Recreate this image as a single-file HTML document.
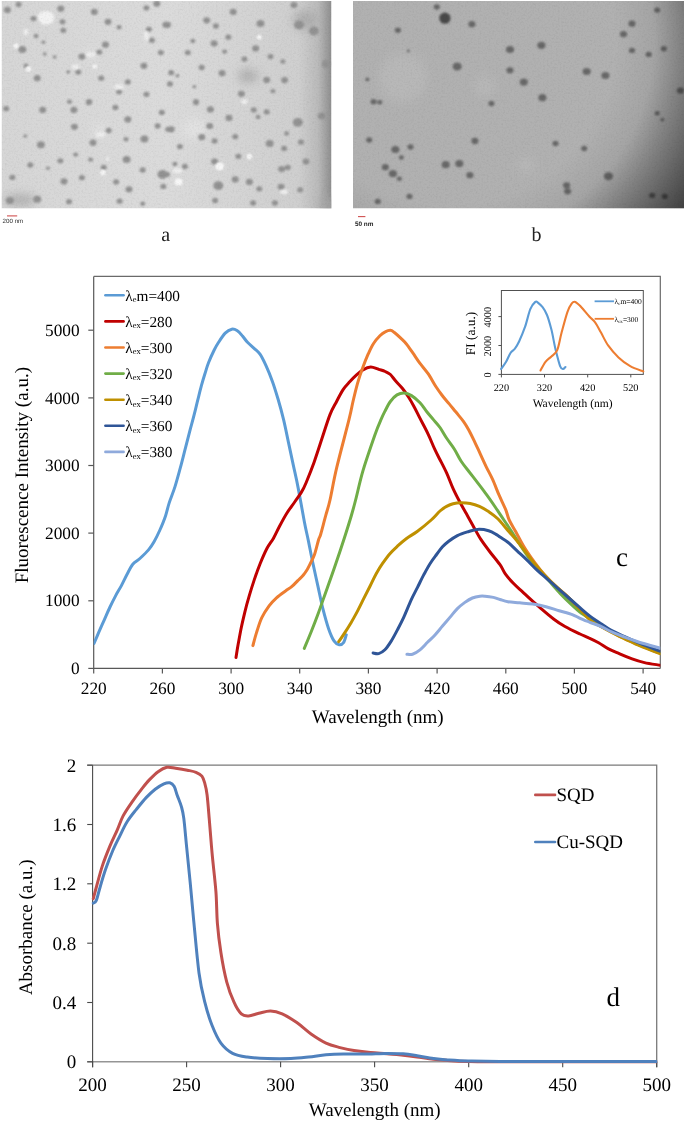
<!DOCTYPE html>
<html><head><meta charset="utf-8"><style>
html,body{margin:0;padding:0;background:#fff;}
svg{display:block;will-change:transform;}
text{font-family:"Liberation Serif",serif;fill:#000;text-rendering:geometricPrecision;}
.t17{font-size:17.3px;}
.t20{font-size:20px;}
.t27{font-size:27px;}
.t15{font-size:15.3px;}
.sub{font-size:8.5px;}
.sub7{font-size:5px;}
.t7{font-size:7.5px;}
.t10{font-size:10.3px;}
.t11{font-size:11.5px;}
.t13{font-size:13.4px;}
.t19{font-size:19px;}
.lab{font-size:20px;fill:#222;}
.t22{font-size:24px;}
.sb{font-family:"Liberation Sans",sans-serif;font-size:6.2px;fill:#2a2a2a;}
.sbb{font-family:"Liberation Sans",sans-serif;font-size:6.4px;fill:#1a1a1a;font-weight:bold;}
</style></head><body>
<svg width="685" height="1122" viewBox="0 0 685 1122">
<defs>
<filter id="bl" x="-50%" y="-50%" width="200%" height="200%"><feGaussianBlur stdDeviation="0.95"/></filter>
<filter id="bl2" x="-50%" y="-50%" width="200%" height="200%"><feGaussianBlur stdDeviation="2.5"/></filter>
<filter id="bl4" x="-50%" y="-50%" width="200%" height="200%"><feGaussianBlur stdDeviation="5"/></filter>
<filter id="noise" x="0" y="0" width="100%" height="100%">
<feTurbulence type="fractalNoise" baseFrequency="0.55" numOctaves="2" seed="3" result="n"/>
<feColorMatrix in="n" type="matrix" values="0 0 0 0 0  0 0 0 0 0  0 0 0 0 0  0.33 0.33 0.33 0 -0.45" result="a"/>
<feComposite in="a" in2="SourceGraphic" operator="in"/>
</filter>
<linearGradient id="ga" x1="0" y1="0" x2="1" y2="0">
<stop offset="0" stop-color="#d6d6d6"/><stop offset="0.5" stop-color="#dbdbdb"/><stop offset="0.9" stop-color="#cfcfcf"/><stop offset="0.96" stop-color="#bababa"/><stop offset="1" stop-color="#8e8e8e"/></linearGradient>
<radialGradient id="gb" gradientUnits="userSpaceOnUse" cx="450" cy="40" r="300">
<stop offset="0" stop-color="#000" stop-opacity="0"/><stop offset="0.55" stop-color="#000" stop-opacity="0"/><stop offset="0.68" stop-color="#000" stop-opacity="0.07"/><stop offset="0.78" stop-color="#000" stop-opacity="0.28"/><stop offset="0.93" stop-color="#000" stop-opacity="0.58"/><stop offset="1" stop-color="#000" stop-opacity="0.7"/></radialGradient>
<radialGradient id="gav" gradientUnits="userSpaceOnUse" cx="150" cy="80" r="200">
<stop offset="0" stop-color="#000" stop-opacity="0"/><stop offset="0.8" stop-color="#000" stop-opacity="0"/><stop offset="0.9" stop-color="#000" stop-opacity="0.06"/><stop offset="1" stop-color="#000" stop-opacity="0.25"/></radialGradient>
<clipPath id="ca"><rect x="1.5" y="1" width="330" height="207.5"/></clipPath>
<clipPath id="cb"><rect x="353" y="1" width="331" height="207.5"/></clipPath>
</defs>
<g clip-path="url(#ca)"><rect x="1.5" y="1" width="330" height="207.5" fill="url(#ga)"/>
<g filter="url(#bl4)" fill="#e2e2e2"><ellipse cx="194.8" cy="128.5" rx="12" ry="10"/><ellipse cx="100" cy="130" rx="8" ry="5"/><ellipse cx="90" cy="55" rx="7" ry="4"/></g>
<g filter="url(#bl4)" fill="#a8a8a8" opacity="0.8"><ellipse cx="248" cy="76" rx="10" ry="7"/><ellipse cx="20" cy="200" rx="16" ry="6"/><ellipse cx="305" cy="20" rx="12" ry="10"/><ellipse cx="328" cy="205" rx="8" ry="8"/></g>
<g filter="url(#bl)" fill="#f2f2f2"><path d="M38 14 Q44 9 51 12 Q56 16 53 22 Q48 26 42 24 Q37 20 38 14Z"/></g>
<g filter="url(#bl)" fill="#929292">
<ellipse cx="7.4" cy="9.9" rx="3.50" ry="3.08"/>
<ellipse cx="18.6" cy="4.5" rx="3.00" ry="2.64"/>
<ellipse cx="33.5" cy="18.6" rx="3.00" ry="2.64"/>
<ellipse cx="60.8" cy="8.7" rx="3.50" ry="3.08"/>
<ellipse cx="62.5" cy="21.8" rx="3.00" ry="2.64"/>
<ellipse cx="63.3" cy="30.3" rx="3.00" ry="2.64"/>
<ellipse cx="36" cy="36" rx="2.50" ry="2.20"/>
<ellipse cx="43.4" cy="42.2" rx="2.00" ry="1.76"/>
<ellipse cx="22.3" cy="49.6" rx="4.00" ry="3.52"/>
<ellipse cx="44.7" cy="54.1" rx="2.00" ry="1.76"/>
<ellipse cx="54.6" cy="57.1" rx="2.00" ry="1.76"/>
<ellipse cx="26" cy="65.8" rx="2.50" ry="2.20"/>
<ellipse cx="37.2" cy="78.2" rx="3.50" ry="3.08"/>
<ellipse cx="81.9" cy="56.6" rx="3.50" ry="3.08"/>
<ellipse cx="99.3" cy="52.1" rx="3.00" ry="2.64"/>
<ellipse cx="105.5" cy="44.7" rx="3.50" ry="3.08"/>
<ellipse cx="94.3" cy="11.9" rx="3.50" ry="3.08"/>
<ellipse cx="108" cy="21.8" rx="3.50" ry="3.08"/>
<ellipse cx="119.1" cy="27.3" rx="2.50" ry="2.20"/>
<ellipse cx="148.9" cy="29.3" rx="3.00" ry="2.64"/>
<ellipse cx="151.9" cy="40.2" rx="3.00" ry="2.64"/>
<ellipse cx="146.4" cy="7.9" rx="3.00" ry="2.64"/>
<ellipse cx="156.8" cy="3.7" rx="3.50" ry="3.08"/>
<ellipse cx="165.8" cy="24.8" rx="3.50" ry="3.08"/>
<ellipse cx="160.8" cy="52.6" rx="3.00" ry="2.64"/>
<ellipse cx="143.9" cy="65.8" rx="3.50" ry="3.08"/>
<ellipse cx="127.8" cy="81.9" rx="3.00" ry="2.64"/>
<ellipse cx="101.2" cy="78.2" rx="3.00" ry="2.64"/>
<ellipse cx="78.2" cy="72" rx="3.00" ry="2.64"/>
<ellipse cx="68.2" cy="72" rx="2.00" ry="1.76"/>
<ellipse cx="119.1" cy="91.8" rx="3.00" ry="2.64"/>
<ellipse cx="146.4" cy="94.3" rx="3.00" ry="2.64"/>
<ellipse cx="69.5" cy="101.7" rx="2.50" ry="2.20"/>
<ellipse cx="89.3" cy="101.7" rx="3.00" ry="2.64"/>
<ellipse cx="233.2" cy="11.9" rx="3.50" ry="3.08"/>
<ellipse cx="206.7" cy="20.3" rx="3.50" ry="3.08"/>
<ellipse cx="215.9" cy="26" rx="3.00" ry="2.64"/>
<ellipse cx="167.5" cy="24.8" rx="3.50" ry="3.08"/>
<ellipse cx="260.5" cy="23.6" rx="4.00" ry="3.52"/>
<ellipse cx="228.3" cy="37.2" rx="3.00" ry="2.64"/>
<ellipse cx="214.1" cy="43.4" rx="3.50" ry="3.08"/>
<ellipse cx="192.8" cy="40.9" rx="2.50" ry="2.20"/>
<ellipse cx="187.8" cy="52.6" rx="3.00" ry="2.64"/>
<ellipse cx="224.6" cy="51.6" rx="2.50" ry="2.20"/>
<ellipse cx="255.6" cy="48.4" rx="3.50" ry="3.08"/>
<ellipse cx="270.5" cy="56.6" rx="3.00" ry="2.64"/>
<ellipse cx="244.4" cy="59.1" rx="3.00" ry="2.64"/>
<ellipse cx="282.9" cy="61.5" rx="2.50" ry="2.20"/>
<ellipse cx="201.7" cy="67.5" rx="3.00" ry="2.64"/>
<ellipse cx="222.1" cy="73.2" rx="3.50" ry="3.08"/>
<ellipse cx="171.2" cy="72.7" rx="3.00" ry="2.64"/>
<ellipse cx="177.4" cy="75.7" rx="2.00" ry="1.76"/>
<ellipse cx="170" cy="83.9" rx="3.00" ry="2.64"/>
<ellipse cx="266.7" cy="79.9" rx="3.50" ry="3.08"/>
<ellipse cx="284.6" cy="80.1" rx="3.50" ry="3.08"/>
<ellipse cx="241.4" cy="93.8" rx="3.50" ry="3.08"/>
<ellipse cx="272.9" cy="91.1" rx="2.50" ry="2.20"/>
<ellipse cx="194.3" cy="86.8" rx="2.00" ry="1.76"/>
<ellipse cx="196" cy="101.7" rx="3.00" ry="2.64"/>
<ellipse cx="294" cy="5" rx="3.50" ry="3.08"/>
<ellipse cx="299" cy="24.8" rx="5.00" ry="4.40"/>
<ellipse cx="313.9" cy="31" rx="5.00" ry="4.40"/>
<ellipse cx="326.3" cy="64" rx="4.50" ry="3.96"/>
<ellipse cx="6.2" cy="108.7" rx="3.00" ry="2.64"/>
<ellipse cx="42.7" cy="109.9" rx="3.50" ry="3.08"/>
<ellipse cx="73.9" cy="109.9" rx="3.50" ry="3.08"/>
<ellipse cx="88.8" cy="102.5" rx="3.00" ry="2.64"/>
<ellipse cx="115.4" cy="107.4" rx="3.00" ry="2.64"/>
<ellipse cx="127.8" cy="119.4" rx="3.50" ry="3.08"/>
<ellipse cx="161.8" cy="112.4" rx="3.00" ry="2.64"/>
<ellipse cx="74.4" cy="126.8" rx="3.50" ry="3.08"/>
<ellipse cx="108.7" cy="130.5" rx="3.00" ry="2.64"/>
<ellipse cx="93" cy="142.7" rx="3.50" ry="3.08"/>
<ellipse cx="40.9" cy="144.7" rx="4.00" ry="3.52"/>
<ellipse cx="25.3" cy="136" rx="2.00" ry="1.76"/>
<ellipse cx="126" cy="139.2" rx="2.50" ry="2.20"/>
<ellipse cx="144.4" cy="139" rx="4.00" ry="3.52"/>
<ellipse cx="157.6" cy="126" rx="3.00" ry="2.64"/>
<ellipse cx="168.2" cy="129.3" rx="3.00" ry="2.64"/>
<ellipse cx="75.7" cy="154.6" rx="2.50" ry="2.20"/>
<ellipse cx="60.3" cy="160.8" rx="3.00" ry="2.64"/>
<ellipse cx="90.6" cy="159.6" rx="2.50" ry="2.20"/>
<ellipse cx="126.6" cy="159.6" rx="4.00" ry="3.52"/>
<ellipse cx="30.3" cy="165" rx="3.00" ry="2.64"/>
<ellipse cx="47.9" cy="168.2" rx="2.00" ry="1.76"/>
<ellipse cx="103.7" cy="167.5" rx="3.00" ry="2.64"/>
<ellipse cx="142.7" cy="170" rx="3.00" ry="2.64"/>
<ellipse cx="162.5" cy="174.4" rx="5.00" ry="4.40"/>
<ellipse cx="12.4" cy="177.4" rx="3.00" ry="2.64"/>
<ellipse cx="81.9" cy="177.7" rx="3.00" ry="2.64"/>
<ellipse cx="64" cy="181.4" rx="3.50" ry="3.08"/>
<ellipse cx="116.1" cy="181.9" rx="3.00" ry="2.64"/>
<ellipse cx="129" cy="189.3" rx="3.50" ry="3.08"/>
<ellipse cx="163.3" cy="186.4" rx="3.00" ry="2.64"/>
<ellipse cx="9.9" cy="200.5" rx="4.00" ry="3.52"/>
<ellipse cx="37.2" cy="199.3" rx="4.00" ry="3.52"/>
<ellipse cx="69" cy="201.7" rx="3.00" ry="2.64"/>
<ellipse cx="119.6" cy="201.2" rx="3.00" ry="2.64"/>
<ellipse cx="142.7" cy="203.7" rx="2.50" ry="2.20"/>
<ellipse cx="196" cy="102.5" rx="3.00" ry="2.64"/>
<ellipse cx="210.4" cy="109.4" rx="3.50" ry="3.08"/>
<ellipse cx="229" cy="117.9" rx="3.50" ry="3.08"/>
<ellipse cx="253.8" cy="109.9" rx="3.00" ry="2.64"/>
<ellipse cx="266.7" cy="111.9" rx="3.00" ry="2.64"/>
<ellipse cx="258" cy="116.9" rx="2.50" ry="2.20"/>
<ellipse cx="297.8" cy="122.3" rx="5.00" ry="4.40"/>
<ellipse cx="321.8" cy="116.1" rx="4.00" ry="3.52"/>
<ellipse cx="171.2" cy="129.3" rx="3.50" ry="3.08"/>
<ellipse cx="209.7" cy="126" rx="3.50" ry="3.08"/>
<ellipse cx="201.7" cy="137.2" rx="3.50" ry="3.08"/>
<ellipse cx="235.2" cy="136.7" rx="3.00" ry="2.64"/>
<ellipse cx="214.6" cy="141" rx="3.00" ry="2.64"/>
<ellipse cx="179.9" cy="146.6" rx="3.00" ry="2.64"/>
<ellipse cx="269.7" cy="143.4" rx="4.00" ry="3.52"/>
<ellipse cx="284.1" cy="148.4" rx="3.00" ry="2.64"/>
<ellipse cx="286.6" cy="133.5" rx="2.50" ry="2.20"/>
<ellipse cx="301" cy="142.2" rx="3.00" ry="2.64"/>
<ellipse cx="238.4" cy="156.3" rx="3.00" ry="2.64"/>
<ellipse cx="214.6" cy="161.5" rx="3.50" ry="3.08"/>
<ellipse cx="306" cy="161.5" rx="3.50" ry="3.08"/>
<ellipse cx="281.6" cy="169" rx="3.50" ry="3.08"/>
<ellipse cx="287.8" cy="167.5" rx="3.00" ry="2.64"/>
<ellipse cx="184.9" cy="166.5" rx="3.00" ry="2.64"/>
<ellipse cx="174.9" cy="164" rx="2.50" ry="2.20"/>
<ellipse cx="235.2" cy="179.4" rx="3.50" ry="3.08"/>
<ellipse cx="249.4" cy="181.9" rx="3.50" ry="3.08"/>
<ellipse cx="218.3" cy="185.6" rx="5.00" ry="4.40"/>
<ellipse cx="259.3" cy="188.8" rx="3.00" ry="2.64"/>
<ellipse cx="281.1" cy="186.8" rx="3.50" ry="3.08"/>
<ellipse cx="300.2" cy="189.8" rx="3.00" ry="2.64"/>
<ellipse cx="215.1" cy="200.5" rx="3.00" ry="2.64"/>
<ellipse cx="253.1" cy="203" rx="3.00" ry="2.64"/>
<ellipse cx="274.9" cy="203" rx="3.00" ry="2.64"/>
<ellipse cx="167" cy="174.4" rx="3.00" ry="2.64"/>
</g><g filter="url(#bl)" fill="#eeeeee">
<ellipse cx="90.6" cy="54.6" rx="4.80" ry="2.40"/>
<ellipse cx="75.7" cy="67" rx="4.00" ry="2.40"/>
<ellipse cx="146.4" cy="36" rx="2.40" ry="4.80"/>
<ellipse cx="119" cy="86.9" rx="4.80" ry="2.40"/>
<ellipse cx="28.5" cy="69" rx="2.40" ry="2.40"/>
<ellipse cx="16" cy="46" rx="2.40" ry="2.40"/>
<ellipse cx="26" cy="32" rx="2.40" ry="3.20"/>
<ellipse cx="94.8" cy="66.5" rx="2.00" ry="2.00"/>
<ellipse cx="100.5" cy="134.7" rx="4.80" ry="2.40"/>
<ellipse cx="103" cy="172.5" rx="2.40" ry="2.40"/>
<ellipse cx="178.6" cy="181.9" rx="3.20" ry="3.20"/>
<ellipse cx="219.6" cy="166.5" rx="3.20" ry="3.20"/>
<ellipse cx="249.4" cy="156.6" rx="2.40" ry="2.40"/>
<ellipse cx="284.1" cy="191.8" rx="4.00" ry="2.40"/>
<ellipse cx="244.4" cy="101.7" rx="3.20" ry="2.40"/>
<ellipse cx="259.3" cy="37.2" rx="2.00" ry="2.00"/>
<ellipse cx="177.4" cy="170.7" rx="4.80" ry="2.40"/>
</g><g filter="url(#bl)" fill="#f8f8f8">
<ellipse cx="178.6" cy="181.9" rx="3.6" ry="3.2"/>
<ellipse cx="219.6" cy="166.5" rx="4" ry="3.4"/>
<ellipse cx="249.4" cy="156.6" rx="2.4" ry="2.4"/>
<ellipse cx="103" cy="172.5" rx="2.4" ry="2.2"/>
<ellipse cx="107.5" cy="159" rx="1.4" ry="1.4"/>
<ellipse cx="94.8" cy="66.5" rx="1.8" ry="1.8"/>
<ellipse cx="259.3" cy="37.2" rx="2" ry="2"/>
<ellipse cx="28.5" cy="69" rx="2.2" ry="2.2"/>
<ellipse cx="16" cy="46" rx="2" ry="2"/>
</g>
<rect x="1.5" y="1" width="330" height="207.5" fill="#000" filter="url(#noise)" opacity="0.18"/>
</g>
<g clip-path="url(#cb)"><rect x="353" y="1" width="331" height="207.5" fill="#b1b1b1"/>
<rect x="353" y="150" width="331" height="60" fill="#000" opacity="0.0"/>
<g filter="url(#bl4)" fill="#b8b8b8">
<circle cx="402.9" cy="78" r="24"/>
<circle cx="485" cy="86.6" r="10"/>
<circle cx="526.3" cy="165.2" r="8"/>
</g><g filter="url(#bl)" fill="#686868">
<ellipse cx="436.8" cy="6.9" rx="3.06" ry="2.70"/>
<ellipse cx="471.9" cy="24.2" rx="3.57" ry="3.15"/>
<ellipse cx="397.9" cy="30.2" rx="3.06" ry="2.70"/>
<ellipse cx="408.3" cy="50.9" rx="1.53" ry="1.35"/>
<ellipse cx="457.2" cy="66.5" rx="4.59" ry="4.05"/>
<ellipse cx="510" cy="49.5" rx="4.08" ry="3.60"/>
<ellipse cx="510" cy="70.3" rx="3.57" ry="3.15"/>
<ellipse cx="367.4" cy="79.4" rx="2.04" ry="1.80"/>
<ellipse cx="373.6" cy="101.7" rx="3.06" ry="2.70"/>
<ellipse cx="379.8" cy="102.2" rx="2.55" ry="2.25"/>
<ellipse cx="491.4" cy="103.5" rx="3.06" ry="2.70"/>
<ellipse cx="632" cy="23.7" rx="3.57" ry="3.15"/>
<ellipse cx="623.5" cy="34.2" rx="3.57" ry="3.15"/>
<ellipse cx="657.2" cy="10.1" rx="3.06" ry="2.70"/>
<ellipse cx="541.4" cy="45.3" rx="4.08" ry="3.60"/>
<ellipse cx="632" cy="50.4" rx="3.06" ry="2.70"/>
<ellipse cx="648.7" cy="54.4" rx="3.06" ry="2.70"/>
<ellipse cx="663.8" cy="48.8" rx="3.06" ry="2.70"/>
<ellipse cx="523.8" cy="82.1" rx="4.08" ry="3.60"/>
<ellipse cx="586.7" cy="71.5" rx="4.08" ry="3.60"/>
<ellipse cx="605.4" cy="75.5" rx="4.08" ry="3.60"/>
<ellipse cx="542.4" cy="97.7" rx="4.08" ry="3.60"/>
<ellipse cx="680.4" cy="90.6" rx="3.57" ry="3.15"/>
<ellipse cx="369.2" cy="140" rx="3.06" ry="2.70"/>
<ellipse cx="474.9" cy="141" rx="3.57" ry="3.15"/>
<ellipse cx="395.4" cy="149.5" rx="4.08" ry="3.60"/>
<ellipse cx="410.5" cy="147" rx="3.06" ry="2.70"/>
<ellipse cx="401.4" cy="157.6" rx="2.55" ry="2.25"/>
<ellipse cx="445.7" cy="164.7" rx="4.08" ry="3.60"/>
<ellipse cx="459.3" cy="163.6" rx="4.08" ry="3.60"/>
<ellipse cx="385.3" cy="167.2" rx="3.57" ry="3.15"/>
<ellipse cx="392.9" cy="173.7" rx="4.08" ry="3.60"/>
<ellipse cx="399.4" cy="178.8" rx="2.55" ry="2.25"/>
<ellipse cx="469.9" cy="175.2" rx="3.57" ry="3.15"/>
<ellipse cx="555.5" cy="143.5" rx="3.06" ry="2.70"/>
<ellipse cx="584.2" cy="148.5" rx="3.06" ry="2.70"/>
<ellipse cx="608.4" cy="176.2" rx="4.59" ry="4.05"/>
<ellipse cx="566.6" cy="185.3" rx="3.57" ry="3.15"/>
<ellipse cx="567.6" cy="191.3" rx="3.57" ry="3.15"/>
<ellipse cx="409.5" cy="196.4" rx="3.06" ry="2.70"/>
<ellipse cx="377.8" cy="201.4" rx="3.06" ry="2.70"/>
<ellipse cx="657.2" cy="113.3" rx="2.55" ry="2.25"/>
<ellipse cx="662.3" cy="119.8" rx="2.04" ry="1.80"/>
<ellipse cx="652.2" cy="195.4" rx="3.06" ry="2.70"/>
<ellipse cx="664.8" cy="196.4" rx="3.06" ry="2.70"/>
</g>
<circle cx="444.9" cy="18.2" r="5.6" fill="#4a4a4a" filter="url(#bl)"/>
<rect x="353" y="1" width="331" height="207.5" fill="url(#gb)"/>
<rect x="353" y="1" width="331" height="207.5" fill="#000" filter="url(#noise)" opacity="0.18"/>
</g>
<line x1="7" y1="215.9" x2="17.2" y2="215.9" stroke="#d05050" stroke-width="1.1"/>
<text x="2.6" y="222.6" class="sb">200 nm</text>
<line x1="358" y1="216.6" x2="365.4" y2="216.6" stroke="#d05050" stroke-width="1.1"/>
<text x="354.9" y="225.6" class="sbb">50 nm</text>
<text x="165.6" y="241" text-anchor="middle" class="lab">a</text>
<text x="536.6" y="241.2" text-anchor="middle" class="lab">b</text>
<path d="M93.7 276.4 H660.3 V668.4" fill="none" stroke="#6a6a6a" stroke-width="1.2"/>
<path d="M93.7 276.4 V668.4 H660.3" fill="none" stroke="#585858" stroke-width="1.2"/>
<line x1="88.3" y1="668.4" x2="93.7" y2="668.4" stroke="#585858" stroke-width="1.2"/>
<text x="79.6" y="674.0" text-anchor="end" class="t17">0</text>
<line x1="88.3" y1="600.8" x2="93.7" y2="600.8" stroke="#585858" stroke-width="1.2"/>
<text x="79.6" y="606.4" text-anchor="end" class="t17">1000</text>
<line x1="88.3" y1="533.1" x2="93.7" y2="533.1" stroke="#585858" stroke-width="1.2"/>
<text x="79.6" y="538.7" text-anchor="end" class="t17">2000</text>
<line x1="88.3" y1="465.5" x2="93.7" y2="465.5" stroke="#585858" stroke-width="1.2"/>
<text x="79.6" y="471.1" text-anchor="end" class="t17">3000</text>
<line x1="88.3" y1="397.9" x2="93.7" y2="397.9" stroke="#585858" stroke-width="1.2"/>
<text x="79.6" y="403.5" text-anchor="end" class="t17">4000</text>
<line x1="88.3" y1="330.2" x2="93.7" y2="330.2" stroke="#585858" stroke-width="1.2"/>
<text x="79.6" y="335.9" text-anchor="end" class="t17">5000</text>
<line x1="93.7" y1="668.4" x2="93.7" y2="673.4" stroke="#585858" stroke-width="1.2"/>
<text x="93.7" y="694.3" text-anchor="middle" class="t17">220</text>
<line x1="162.4" y1="668.4" x2="162.4" y2="673.4" stroke="#585858" stroke-width="1.2"/>
<text x="162.4" y="694.3" text-anchor="middle" class="t17">260</text>
<line x1="231.1" y1="668.4" x2="231.1" y2="673.4" stroke="#585858" stroke-width="1.2"/>
<text x="231.1" y="694.3" text-anchor="middle" class="t17">300</text>
<line x1="299.7" y1="668.4" x2="299.7" y2="673.4" stroke="#585858" stroke-width="1.2"/>
<text x="299.7" y="694.3" text-anchor="middle" class="t17">340</text>
<line x1="368.4" y1="668.4" x2="368.4" y2="673.4" stroke="#585858" stroke-width="1.2"/>
<text x="368.4" y="694.3" text-anchor="middle" class="t17">380</text>
<line x1="437.1" y1="668.4" x2="437.1" y2="673.4" stroke="#585858" stroke-width="1.2"/>
<text x="437.1" y="694.3" text-anchor="middle" class="t17">420</text>
<line x1="505.8" y1="668.4" x2="505.8" y2="673.4" stroke="#585858" stroke-width="1.2"/>
<text x="505.8" y="694.3" text-anchor="middle" class="t17">460</text>
<line x1="574.4" y1="668.4" x2="574.4" y2="673.4" stroke="#585858" stroke-width="1.2"/>
<text x="574.4" y="694.3" text-anchor="middle" class="t17">500</text>
<line x1="643.1" y1="668.4" x2="643.1" y2="673.4" stroke="#585858" stroke-width="1.2"/>
<text x="643.1" y="694.3" text-anchor="middle" class="t17">540</text>
<text x="377.7" y="722.9" text-anchor="middle" class="t19">Wavelength (nm)</text>
<text transform="translate(28.4,475.2) rotate(-90)" text-anchor="middle" class="t19">Fluorescence Intensity (a.u.)</text>
<clipPath id="cc"><rect x="93.7" y="271.4" width="566.5999999999999" height="402.0"/></clipPath><g clip-path="url(#cc)">
<path d="M94.0 643.4 C94.8 641.6 96.9 636.6 98.6 632.7 C100.3 628.8 102.4 624.1 104.3 619.8 C106.2 615.5 108.1 611.0 110.0 607.0 C111.9 603.0 113.8 599.2 115.7 595.6 C117.6 592.0 119.5 589.2 121.4 585.6 C123.3 582.0 125.2 577.8 127.1 574.2 C129.0 570.6 130.7 566.8 132.8 564.2 C134.9 561.6 137.3 560.9 139.9 558.5 C142.5 556.1 146.1 552.8 148.5 549.9 C150.9 547.0 152.3 544.7 154.2 541.4 C156.1 538.1 158.0 534.3 159.9 530.0 C161.8 525.7 164.1 520.2 165.6 515.7 C167.1 511.2 167.6 507.8 169.2 502.9 C170.8 498.0 173.2 492.4 175.0 486.6 C176.8 480.8 178.5 474.4 180.3 467.9 C182.1 461.4 183.9 453.9 185.6 447.4 C187.3 440.9 188.9 434.6 190.3 429.1 C191.8 423.6 193.1 419.1 194.3 414.2 C195.6 409.3 196.6 404.6 197.8 399.9 C199.0 395.1 200.2 390.1 201.4 385.7 C202.6 381.3 203.8 377.3 205.0 373.5 C206.2 369.7 207.0 366.7 208.5 362.8 C210.0 358.9 212.5 353.4 214.2 350.0 C215.9 346.6 216.8 345.1 218.6 342.3 C220.4 339.5 223.0 335.3 225.2 333.1 C227.4 330.9 229.8 329.6 231.8 329.2 C233.8 328.8 235.2 329.4 237.0 330.5 C238.8 331.6 240.6 333.8 242.3 335.8 C244.1 337.8 245.5 340.2 247.5 342.3 C249.5 344.4 252.0 346.3 254.1 348.3 C256.2 350.3 258.0 351.3 260.0 354.2 C262.0 357.1 263.9 361.1 266.0 365.7 C268.1 370.3 270.5 376.1 272.5 381.7 C274.5 387.3 276.2 392.9 278.1 399.3 C280.0 405.7 282.0 413.0 283.7 420.2 C285.4 427.4 286.9 435.1 288.5 442.6 C290.1 450.1 291.7 457.6 293.3 465.1 C294.9 472.6 296.3 478.2 298.1 487.6 C299.9 497.0 302.6 512.4 304.3 521.4 C306.0 530.4 307.1 534.5 308.5 541.4 C309.9 548.3 311.2 555.4 312.8 562.8 C314.4 570.2 316.1 578.0 317.8 585.6 C319.5 593.2 321.0 601.3 322.8 608.4 C324.6 615.5 326.6 622.9 328.5 628.4 C330.4 633.9 332.4 638.5 334.2 641.2 C336.0 643.9 337.6 644.5 339.2 644.8 C340.8 645.0 342.3 644.4 343.5 642.7 C344.7 641.0 345.8 636.1 346.3 634.8" fill="none" stroke="#5b9bd5" stroke-width="3" stroke-linecap="round" stroke-linejoin="round"/>
<path d="M236.0 657.4 C236.4 655.2 237.3 649.0 238.2 644.1 C239.1 639.2 240.1 633.4 241.2 628.0 C242.3 622.6 243.6 617.2 244.9 611.8 C246.2 606.4 247.7 601.0 249.3 595.6 C250.9 590.2 252.6 584.8 254.4 579.4 C256.2 574.0 258.2 568.4 260.3 563.2 C262.4 558.1 264.7 552.7 266.9 548.5 C269.1 544.3 271.4 541.9 273.5 538.2 C275.6 534.5 277.2 530.7 279.4 526.5 C281.6 522.3 284.2 517.4 286.8 513.2 C289.4 509.0 292.6 505.0 295.0 501.5 C297.4 498.0 299.4 495.5 301.3 492.4 C303.2 489.3 304.0 487.8 306.1 482.7 C308.2 477.6 311.5 469.4 314.2 461.9 C316.9 454.4 319.6 445.7 322.2 437.8 C324.8 429.9 327.6 420.7 330.0 414.6 C332.4 408.6 334.4 405.7 336.6 401.5 C338.8 397.3 340.9 392.9 343.1 389.6 C345.3 386.3 347.5 384.2 349.7 381.8 C351.9 379.4 354.1 377.2 356.3 375.2 C358.5 373.2 360.5 371.3 362.9 369.9 C365.3 368.5 368.1 367.1 370.7 367.0 C373.3 366.9 376.2 368.6 378.6 369.3 C381.0 370.1 383.2 370.6 385.2 371.5 C387.2 372.4 388.6 372.9 390.4 374.5 C392.1 376.1 393.7 378.8 395.7 381.1 C397.7 383.4 400.1 385.6 402.3 388.3 C404.5 391.0 406.8 394.4 408.8 397.5 C410.8 400.6 412.3 403.4 414.1 406.7 C415.9 410.0 417.1 412.6 419.4 417.2 C421.7 421.8 425.6 428.8 428.1 434.1 C430.7 439.4 432.7 444.9 434.7 449.2 C436.7 453.5 438.0 455.8 440.0 459.7 C442.0 463.6 444.4 468.1 446.6 472.9 C448.8 477.7 450.9 483.8 453.1 488.6 C455.3 493.4 457.5 497.6 459.7 501.8 C461.9 506.0 464.1 509.7 466.3 513.6 C468.5 517.5 470.5 521.1 472.9 525.4 C475.3 529.7 477.8 534.8 480.7 539.2 C483.6 543.6 486.8 547.8 490.0 552.0 C493.2 556.2 497.4 561.1 500.0 564.7 C502.6 568.4 503.1 570.8 505.3 573.9 C507.5 577.0 510.3 580.1 513.1 583.1 C515.9 586.1 519.2 588.8 522.3 591.6 C525.4 594.5 528.2 597.2 531.5 600.2 C534.8 603.2 538.3 606.2 542.0 609.4 C545.7 612.6 550.1 616.4 553.9 619.2 C557.7 622.1 560.6 624.0 565.0 626.5 C569.4 629.0 576.0 632.1 580.0 634.0 C584.0 635.9 585.6 636.3 588.7 637.8 C591.8 639.2 595.3 640.9 598.6 642.7 C601.9 644.6 605.0 647.0 608.5 648.9 C612.0 650.8 615.8 652.2 619.7 653.9 C623.6 655.6 628.0 657.4 632.1 658.9 C636.2 660.4 639.8 661.5 644.5 662.6 C649.2 663.7 657.9 664.8 660.6 665.3" fill="none" stroke="#c00000" stroke-width="3" stroke-linecap="round" stroke-linejoin="round"/>
<path d="M252.9 645.6 C253.5 643.4 255.1 637.1 256.6 632.4 C258.1 627.7 259.7 622.0 261.8 617.6 C263.9 613.2 266.7 609.2 269.1 605.9 C271.6 602.6 273.7 600.3 276.5 597.8 C279.3 595.3 283.3 592.6 285.8 590.8 C288.3 588.9 289.8 588.4 291.7 586.7 C293.6 585.1 295.6 582.9 297.5 580.9 C299.4 578.9 301.8 577.0 303.4 575.0 C305.0 573.0 306.1 571.3 307.4 569.2 C308.7 567.1 309.8 564.6 311.0 562.2 C312.2 559.8 313.2 558.3 314.5 554.6 C315.8 550.9 317.5 543.4 318.5 540.0 C319.5 536.6 319.5 538.2 320.7 534.2 C321.9 530.2 324.1 521.4 325.7 515.7 C327.2 510.0 328.2 508.0 330.0 500.0 C331.8 492.0 333.5 481.2 336.7 467.7 C339.9 454.2 346.4 430.2 349.1 419.2 C351.8 408.2 351.6 407.5 353.0 401.5 C354.4 395.5 356.0 388.8 357.6 383.1 C359.2 377.4 361.1 372.1 362.9 367.3 C364.6 362.5 366.4 358.1 368.1 354.2 C369.9 350.3 371.4 346.8 373.4 343.7 C375.4 340.6 377.9 337.8 379.9 335.8 C381.9 333.8 383.4 332.7 385.2 331.8 C386.9 330.9 388.9 330.1 390.4 330.2 C391.9 330.3 392.6 331.1 394.4 332.5 C396.2 333.9 399.0 336.5 401.0 338.4 C403.0 340.3 404.2 341.3 406.2 343.7 C408.2 346.1 410.5 349.6 412.8 352.9 C415.1 356.2 417.4 359.9 420.0 363.4 C422.6 366.9 425.4 369.8 428.1 373.7 C430.8 377.6 433.6 383.1 436.0 386.8 C438.4 390.5 440.4 393.1 442.6 396.0 C444.8 398.9 447.0 401.3 449.2 403.9 C451.4 406.5 453.3 408.9 455.7 411.8 C458.1 414.8 461.4 418.5 463.6 421.6 C465.8 424.7 467.1 427.0 468.9 430.2 C470.6 433.4 472.6 437.5 474.1 440.7 C475.6 443.9 476.1 444.9 478.1 449.2 C480.1 453.5 483.6 461.3 486.0 466.3 C488.4 471.3 490.4 474.6 492.6 479.4 C494.8 484.2 496.9 490.2 499.1 495.2 C501.3 500.2 504.0 505.5 505.7 509.6 C507.4 513.7 507.5 516.3 509.2 520.0 C510.9 523.7 513.4 527.4 515.8 531.8 C518.2 536.2 521.1 541.9 523.7 546.3 C526.3 550.7 528.9 554.4 531.5 558.1 C534.1 561.8 536.8 565.3 539.4 568.6 C542.0 571.9 544.7 574.9 547.3 577.8 C549.9 580.6 552.1 582.9 555.2 585.7 C558.3 588.6 562.2 591.6 565.7 594.9 C569.2 598.2 572.2 601.3 576.2 605.4 C580.2 609.5 586.0 616.0 589.9 619.4 C593.8 622.8 596.2 623.4 599.9 625.6 C603.6 627.8 608.2 630.2 612.3 632.4 C616.4 634.6 620.6 636.6 624.7 638.6 C628.8 640.6 633.0 642.4 637.1 644.2 C641.2 646.0 645.6 647.7 649.5 649.2 C653.4 650.8 658.8 652.8 660.6 653.5" fill="none" stroke="#ed7d31" stroke-width="3" stroke-linecap="round" stroke-linejoin="round"/>
<path d="M304.3 648.4 C305.5 645.5 309.0 637.2 311.4 631.2 C313.8 625.2 315.9 619.8 318.5 612.7 C321.1 605.6 324.2 596.5 327.1 588.4 C330.0 580.3 332.8 572.5 335.6 564.2 C338.5 555.9 341.6 546.6 344.2 538.5 C346.8 530.4 349.4 522.1 351.3 515.7 C353.2 509.3 353.7 507.5 355.6 500.0 C357.6 492.5 359.8 481.4 363.0 470.6 C366.2 459.9 371.7 444.1 374.7 435.5 C377.7 426.9 379.4 423.3 381.2 419.2 C382.9 415.1 383.7 413.6 385.2 410.7 C386.7 407.8 388.4 404.1 390.4 401.5 C392.4 398.9 394.7 396.3 397.0 394.9 C399.3 393.5 401.8 392.8 404.2 392.9 C406.6 393.0 408.9 394.0 411.5 395.6 C414.1 397.2 417.4 400.1 420.0 402.8 C422.6 405.5 424.6 409.0 426.8 411.8 C429.0 414.6 431.2 417.0 433.4 419.6 C435.6 422.2 437.8 424.4 440.0 427.5 C442.2 430.6 444.1 434.4 446.5 438.0 C448.9 441.6 452.0 445.4 454.4 449.2 C456.8 453.0 458.6 457.3 461.0 461.0 C463.4 464.7 466.0 467.8 468.9 471.5 C471.8 475.2 475.2 479.7 478.1 483.4 C481.0 487.1 483.1 490.0 486.0 493.9 C488.9 497.8 492.2 502.6 495.2 507.0 C498.2 511.4 501.1 515.9 503.9 520.0 C506.7 524.1 508.9 527.4 511.8 531.8 C514.6 536.2 517.9 541.7 521.0 546.3 C524.1 550.9 527.1 555.5 530.2 559.4 C533.3 563.3 536.1 566.2 539.4 569.9 C542.7 573.6 546.4 577.8 549.9 581.8 C553.4 585.8 556.9 589.9 560.4 593.6 C563.9 597.3 567.5 600.8 571.0 604.1 C574.5 607.4 578.3 610.9 581.5 613.3 C584.7 615.7 586.9 616.6 590.0 618.6 C593.1 620.6 596.2 623.0 599.9 625.2 C603.6 627.4 608.2 629.8 612.3 632.0 C616.4 634.2 620.6 636.2 624.7 638.2 C628.8 640.2 633.0 642.0 637.1 643.8 C641.2 645.6 645.6 647.2 649.5 648.8 C653.4 650.3 658.8 652.4 660.6 653.1" fill="none" stroke="#70ad47" stroke-width="3" stroke-linecap="round" stroke-linejoin="round"/>
<path d="M338.7 641.7 C339.8 640.2 342.9 635.6 345.0 632.4 C347.1 629.2 349.1 625.9 351.2 622.4 C353.3 618.9 355.4 615.0 357.5 611.1 C359.6 607.2 361.6 602.9 363.7 598.7 C365.8 594.6 367.9 590.4 370.0 586.2 C372.1 582.0 374.1 577.5 376.2 573.7 C378.3 570.0 380.1 567.0 382.4 563.7 C384.7 560.4 387.4 556.6 389.9 553.7 C392.4 550.8 394.7 548.7 397.4 546.2 C400.1 543.7 402.8 541.2 406.2 538.7 C409.6 536.2 413.3 534.3 417.5 531.2 C421.7 528.1 427.4 523.4 431.2 520.0 C434.9 516.6 437.4 513.3 440.0 511.0 C442.6 508.7 444.4 507.6 446.6 506.4 C448.8 505.2 450.7 504.3 453.1 503.7 C455.5 503.1 458.1 502.8 461.0 502.8 C463.9 502.8 467.1 502.9 470.2 503.5 C473.3 504.1 476.3 505.0 479.4 506.4 C482.5 507.8 485.5 509.5 488.6 511.6 C491.7 513.7 494.6 515.6 497.8 518.8 C501.0 521.9 504.7 526.8 507.9 530.5 C511.1 534.2 514.0 537.3 517.1 541.0 C520.2 544.7 523.2 548.9 526.3 552.9 C529.4 556.9 532.4 561.0 535.5 564.7 C538.6 568.4 541.4 571.7 544.7 575.2 C548.0 578.7 551.7 582.4 555.2 585.7 C558.7 589.0 562.2 591.6 565.7 594.9 C569.2 598.2 572.2 601.2 576.2 605.4 C580.2 609.5 586.0 616.4 589.9 619.8 C593.8 623.2 596.2 623.8 599.9 626.0 C603.6 628.2 608.2 630.6 612.3 632.8 C616.4 635.0 620.6 637.0 624.7 639.0 C628.8 641.0 633.0 642.8 637.1 644.6 C641.2 646.4 645.6 648.1 649.5 649.6 C653.4 651.1 658.8 653.2 660.6 653.9" fill="none" stroke="#bf9000" stroke-width="3" stroke-linecap="round" stroke-linejoin="round"/>
<path d="M373.1 653.0 C374.0 653.1 376.7 654.1 378.7 653.6 C380.7 653.1 382.8 651.9 384.9 649.8 C387.0 647.7 389.1 644.4 391.2 641.1 C393.3 637.8 395.3 633.9 397.4 629.9 C399.5 625.9 401.4 622.4 403.7 617.4 C406.0 612.4 408.9 604.9 411.2 599.9 C413.5 594.9 415.4 591.6 417.5 587.4 C419.6 583.2 421.6 578.8 423.7 574.9 C425.8 571.0 427.9 567.0 430.0 563.7 C432.1 560.4 434.1 557.8 436.2 555.0 C438.3 552.2 440.4 549.1 442.5 546.8 C444.6 544.5 446.2 543.1 448.7 541.2 C451.2 539.3 454.3 537.2 457.4 535.6 C460.5 534.0 464.1 532.9 467.4 531.9 C470.7 530.9 473.9 529.6 477.4 529.4 C480.9 529.2 485.4 529.8 488.6 530.7 C491.8 531.6 494.6 533.5 496.5 534.6 C498.4 535.7 498.1 535.8 500.0 537.1 C501.9 538.4 505.0 540.0 507.9 542.3 C510.8 544.6 514.0 548.0 517.1 550.9 C520.2 553.8 523.0 556.2 526.3 559.4 C529.6 562.6 533.3 566.6 536.8 569.9 C540.3 573.2 543.8 576.0 547.3 579.1 C550.8 582.2 554.3 585.2 557.8 588.3 C561.3 591.4 564.8 594.4 568.3 597.5 C571.8 600.6 575.2 603.6 578.8 606.7 C582.4 609.8 586.4 613.4 589.9 616.1 C593.4 618.8 596.2 620.4 599.9 622.9 C603.6 625.4 608.2 628.6 612.3 630.9 C616.4 633.2 620.6 634.6 624.7 636.5 C628.8 638.4 633.0 640.3 637.1 642.1 C641.2 643.9 645.6 645.6 649.5 647.1 C653.4 648.6 658.8 650.7 660.6 651.4" fill="none" stroke="#2f5597" stroke-width="3" stroke-linecap="round" stroke-linejoin="round"/>
<path d="M406.9 654.2 C407.8 654.2 410.3 654.9 412.5 654.2 C414.7 653.5 417.5 651.8 420.0 649.8 C422.5 647.8 425.0 644.8 427.5 642.3 C430.0 639.8 432.5 637.6 435.0 634.9 C437.5 632.2 440.0 629.0 442.5 626.1 C445.0 623.2 447.4 620.3 449.9 617.4 C452.4 614.5 454.9 611.1 457.4 608.6 C459.9 606.1 462.4 604.2 464.9 602.4 C467.4 600.6 469.9 599.0 472.4 598.0 C474.9 597.0 477.8 596.5 479.9 596.2 C482.0 595.9 482.8 596.0 485.0 596.2 C487.2 596.4 490.9 596.9 493.4 597.4 C495.9 597.9 497.6 598.8 500.0 599.5 C502.4 600.2 504.6 601.2 507.9 601.7 C511.2 602.2 515.5 602.4 519.7 602.8 C523.9 603.2 528.5 603.5 532.9 604.1 C537.3 604.8 541.6 605.6 546.0 606.7 C550.4 607.8 554.7 609.4 559.1 610.7 C563.5 612.0 568.8 613.3 572.3 614.6 C575.8 615.9 577.1 617.0 580.0 618.3 C582.9 619.6 586.6 621.0 589.9 622.3 C593.2 623.6 596.2 624.4 599.9 626.0 C603.6 627.6 608.2 630.4 612.3 632.2 C616.4 634.1 620.6 635.6 624.7 637.1 C628.8 638.6 633.0 640.1 637.1 641.5 C641.2 642.9 645.6 644.1 649.5 645.2 C653.4 646.3 658.8 647.8 660.6 648.3" fill="none" stroke="#8faadc" stroke-width="3" stroke-linecap="round" stroke-linejoin="round"/>
</g>
<line x1="105.4" y1="295.3" x2="123.6" y2="295.3" stroke="#5b9bd5" stroke-width="2.6" stroke-linecap="round"/>
<text x="125.3" y="300.5" class="t15">λ<tspan class="sub" dy="1.6">e</tspan><tspan dy="-1.6">m=400</tspan></text>
<line x1="105.4" y1="321.4" x2="123.6" y2="321.4" stroke="#c00000" stroke-width="2.6" stroke-linecap="round"/>
<text x="125.3" y="326.6" class="t15">λ<tspan class="sub" dy="1.6">ex</tspan><tspan dy="-1.6">=280</tspan></text>
<line x1="105.4" y1="347.5" x2="123.6" y2="347.5" stroke="#ed7d31" stroke-width="2.6" stroke-linecap="round"/>
<text x="125.3" y="352.7" class="t15">λ<tspan class="sub" dy="1.6">ex</tspan><tspan dy="-1.6">=300</tspan></text>
<line x1="105.4" y1="373.6" x2="123.6" y2="373.6" stroke="#70ad47" stroke-width="2.6" stroke-linecap="round"/>
<text x="125.3" y="378.8" class="t15">λ<tspan class="sub" dy="1.6">ex</tspan><tspan dy="-1.6">=320</tspan></text>
<line x1="105.4" y1="399.7" x2="123.6" y2="399.7" stroke="#bf9000" stroke-width="2.6" stroke-linecap="round"/>
<text x="125.3" y="404.9" class="t15">λ<tspan class="sub" dy="1.6">ex</tspan><tspan dy="-1.6">=340</tspan></text>
<line x1="105.4" y1="425.8" x2="123.6" y2="425.8" stroke="#2f5597" stroke-width="2.6" stroke-linecap="round"/>
<text x="125.3" y="431.0" class="t15">λ<tspan class="sub" dy="1.6">ex</tspan><tspan dy="-1.6">=360</tspan></text>
<line x1="105.4" y1="451.9" x2="123.6" y2="451.9" stroke="#8faadc" stroke-width="2.6" stroke-linecap="round"/>
<text x="125.3" y="457.1" class="t15">λ<tspan class="sub" dy="1.6">ex</tspan><tspan dy="-1.6">=380</tspan></text>
<text x="622" y="565.6" text-anchor="middle" class="t27">c</text>
<rect x="501.4" y="290.5" width="141.89999999999998" height="83.89999999999998" fill="#fff" stroke="#505050" stroke-width="1"/>
<line x1="498.4" y1="374.4" x2="501.4" y2="374.4" stroke="#505050" stroke-width="1"/>
<text transform="translate(491,375.0) rotate(-90)" text-anchor="middle" class="t10">0</text>
<line x1="498.4" y1="345.5" x2="501.4" y2="345.5" stroke="#505050" stroke-width="1"/>
<text transform="translate(491,346.1) rotate(-90)" text-anchor="middle" class="t10">2000</text>
<line x1="498.4" y1="316.6" x2="501.4" y2="316.6" stroke="#505050" stroke-width="1"/>
<text transform="translate(491,317.2) rotate(-90)" text-anchor="middle" class="t10">4000</text>
<line x1="501.4" y1="374.4" x2="501.4" y2="377.4" stroke="#505050" stroke-width="1"/>
<text x="501.4" y="391.4" text-anchor="middle" class="t10">220</text>
<line x1="544.5" y1="374.4" x2="544.5" y2="377.4" stroke="#505050" stroke-width="1"/>
<text x="544.5" y="391.4" text-anchor="middle" class="t10">320</text>
<line x1="587.7" y1="374.4" x2="587.7" y2="377.4" stroke="#505050" stroke-width="1"/>
<text x="587.7" y="391.4" text-anchor="middle" class="t10">420</text>
<line x1="630.8" y1="374.4" x2="630.8" y2="377.4" stroke="#505050" stroke-width="1"/>
<text x="630.8" y="391.4" text-anchor="middle" class="t10">520</text>
<text x="572.6" y="406.5" text-anchor="middle" class="t11">Wavelength (nm)</text>
<text transform="translate(474.6,333.5) rotate(-90)" text-anchor="middle" class="t13">FI (a.u.)</text>
<path d="M501.1 369.0 C501.9 367.8 504.5 364.5 506.1 361.8 C507.7 359.1 509.0 355.2 510.5 353.0 C512.0 350.8 513.4 350.6 514.9 348.6 C516.4 346.7 517.5 345.0 519.2 341.3 C520.9 337.6 523.2 332.1 525.1 326.7 C527.0 321.3 528.6 313.3 530.3 309.2 C532.0 305.1 534.0 303.0 535.3 301.9 C536.6 300.8 537.0 301.9 538.2 302.8 C539.4 303.7 541.1 305.2 542.6 307.2 C544.1 309.2 545.5 311.3 547.0 315.0 C548.5 318.7 549.9 323.8 551.4 329.6 C552.9 335.5 554.2 344.0 555.7 350.1 C557.2 356.2 558.9 363.0 560.1 366.1 C561.3 369.2 562.1 368.9 563.0 369.0 C563.9 369.1 565.0 367.3 565.4 367.0" fill="none" stroke="#5b9bd5" stroke-width="2.1" stroke-linecap="round" stroke-linejoin="round"/>
<path d="M540.5 370.5 C541.3 369.1 543.7 364.1 545.5 361.8 C547.3 359.5 549.4 358.4 551.4 356.5 C553.4 354.6 555.5 354.1 557.2 350.1 C558.9 346.1 559.9 338.9 561.6 332.6 C563.3 326.3 565.7 317.0 567.4 312.1 C569.1 307.2 570.5 305.1 571.8 303.4 C573.1 301.7 573.8 301.4 575.3 301.9 C576.8 302.4 578.2 303.9 580.5 306.3 C582.8 308.7 586.9 313.8 589.3 316.5 C591.7 319.2 593.1 319.6 595.1 322.3 C597.1 325.0 598.8 328.7 601.0 332.6 C603.2 336.5 605.4 341.6 608.3 345.7 C611.2 349.8 614.9 354.0 618.5 357.4 C622.1 360.8 626.1 363.8 630.2 366.1 C634.3 368.4 641.1 370.5 643.3 371.4" fill="none" stroke="#ed7d31" stroke-width="2.1" stroke-linecap="round" stroke-linejoin="round"/>
<line x1="594.6" y1="301.3" x2="614" y2="301.3" stroke="#5b9bd5" stroke-width="1.8"/>
<text x="614.5" y="304" class="t7">λ<tspan class="sub7" dy="1">e</tspan><tspan dy="-1">m=400</tspan></text>
<line x1="594.6" y1="318.8" x2="614" y2="318.8" stroke="#ed7d31" stroke-width="1.8"/>
<text x="614.5" y="321.5" class="t7">λ<tspan class="sub7" dy="1">ex</tspan><tspan dy="-1">=300</tspan></text>
<path d="M87.19999999999999 765.2 H656.7 V1067.3" fill="none" stroke="#7a7a7a" stroke-width="1.3"/>
<path d="M87.19999999999999 1061.8 H656.7" fill="none" stroke="#959595" stroke-width="1.5"/>
<path d="M92.6 765.2 V1067.3" fill="none" stroke="#4a4a4a" stroke-width="1.1"/>
<line x1="87.19999999999999" y1="1061.8" x2="92.6" y2="1061.8" stroke="#4a4a4a" stroke-width="1.1"/>
<text x="76.3" y="1068.4" text-anchor="end" class="t19">0</text>
<line x1="87.19999999999999" y1="1002.5" x2="92.6" y2="1002.5" stroke="#4a4a4a" stroke-width="1.1"/>
<text x="76.3" y="1009.1" text-anchor="end" class="t19">0.4</text>
<line x1="87.19999999999999" y1="943.2" x2="92.6" y2="943.2" stroke="#4a4a4a" stroke-width="1.1"/>
<text x="76.3" y="949.8" text-anchor="end" class="t19">0.8</text>
<line x1="87.19999999999999" y1="883.8" x2="92.6" y2="883.8" stroke="#4a4a4a" stroke-width="1.1"/>
<text x="76.3" y="890.4" text-anchor="end" class="t19">1.2</text>
<line x1="87.19999999999999" y1="824.5" x2="92.6" y2="824.5" stroke="#4a4a4a" stroke-width="1.1"/>
<text x="76.3" y="831.1" text-anchor="end" class="t19">1.6</text>
<line x1="87.19999999999999" y1="765.2" x2="92.6" y2="765.2" stroke="#4a4a4a" stroke-width="1.1"/>
<text x="76.3" y="771.8" text-anchor="end" class="t19">2</text>
<line x1="92.6" y1="1061.8" x2="92.6" y2="1067.3" stroke="#4a4a4a" stroke-width="1.1"/>
<text x="92.6" y="1090.5" text-anchor="middle" class="t19">200</text>
<line x1="186.6" y1="1061.8" x2="186.6" y2="1067.3" stroke="#4a4a4a" stroke-width="1.1"/>
<text x="186.6" y="1090.5" text-anchor="middle" class="t19">250</text>
<line x1="280.6" y1="1061.8" x2="280.6" y2="1067.3" stroke="#4a4a4a" stroke-width="1.1"/>
<text x="280.6" y="1090.5" text-anchor="middle" class="t19">300</text>
<line x1="374.6" y1="1061.8" x2="374.6" y2="1067.3" stroke="#4a4a4a" stroke-width="1.1"/>
<text x="374.6" y="1090.5" text-anchor="middle" class="t19">350</text>
<line x1="468.7" y1="1061.8" x2="468.7" y2="1067.3" stroke="#4a4a4a" stroke-width="1.1"/>
<text x="468.7" y="1090.5" text-anchor="middle" class="t19">400</text>
<line x1="562.7" y1="1061.8" x2="562.7" y2="1067.3" stroke="#4a4a4a" stroke-width="1.1"/>
<text x="562.7" y="1090.5" text-anchor="middle" class="t19">450</text>
<line x1="656.7" y1="1061.8" x2="656.7" y2="1067.3" stroke="#4a4a4a" stroke-width="1.1"/>
<text x="656.7" y="1090.5" text-anchor="middle" class="t19">500</text>
<text x="374.7" y="1116.2" text-anchor="middle" class="t19">Wavelength (nm)</text>
<text transform="translate(32,927.3) rotate(-90)" text-anchor="middle" class="t19">Absorbance (a.u.)</text>
<clipPath id="cd"><rect x="89.6" y="760.2" width="567.6" height="306.5999999999999"/></clipPath><g clip-path="url(#cd)">
<path d="M93.3 898.7 C93.9 896.5 95.2 891.1 96.8 885.5 C98.3 879.9 100.4 871.7 102.6 865.1 C104.8 858.5 107.5 851.9 109.9 846.1 C112.3 840.3 115.0 835.1 117.2 830.1 C119.4 825.1 120.6 820.7 123.0 816.1 C125.4 811.5 128.6 806.9 131.8 802.3 C135.0 797.7 139.1 792.3 142.0 788.6 C144.9 784.9 146.6 782.7 149.3 779.9 C152.0 777.1 155.2 773.8 158.1 771.7 C161.0 769.6 163.9 767.9 166.8 767.3 C169.7 766.7 172.2 767.7 175.6 768.2 C179.0 768.7 183.9 769.5 187.3 770.2 C190.7 770.9 193.6 771.3 196.0 772.3 C198.4 773.3 200.4 774.2 201.9 776.1 C203.4 778.0 203.9 780.2 204.8 783.4 C205.7 786.5 206.4 789.2 207.1 795.0 C207.8 800.8 208.4 808.7 209.2 818.4 C210.0 828.1 211.0 841.2 212.1 853.4 C213.2 865.6 215.0 879.7 215.9 891.4 C216.8 903.1 216.6 913.2 217.4 923.4 C218.2 933.6 219.4 942.9 220.9 952.6 C222.4 962.3 224.5 973.5 226.7 981.8 C228.9 990.1 231.6 996.9 234.0 1002.2 C236.4 1007.6 238.9 1011.6 241.3 1013.9 C243.7 1016.2 245.7 1016.0 248.6 1015.9 C251.5 1015.8 255.2 1014.1 258.8 1013.3 C262.4 1012.5 266.6 1010.9 270.5 1011.0 C274.4 1011.1 277.8 1012.0 282.2 1013.9 C286.6 1015.8 291.9 1019.2 296.8 1022.6 C301.7 1026.0 306.5 1030.9 311.4 1034.3 C316.3 1037.7 321.2 1040.9 326.0 1043.1 C330.8 1045.3 335.3 1046.3 340.0 1047.6 C344.7 1048.8 348.9 1049.8 354.0 1050.6 C359.1 1051.4 364.9 1052.1 370.4 1052.6 C375.8 1053.1 381.2 1053.3 386.7 1053.7 C392.1 1054.1 398.0 1054.7 403.1 1055.2 C408.2 1055.7 412.0 1056.2 417.1 1056.9 C422.2 1057.6 428.4 1058.6 433.5 1059.2 C438.6 1059.8 441.7 1060.0 447.5 1060.4 C453.3 1060.8 459.8 1061.2 468.5 1061.4 C477.2 1061.6 484.8 1061.6 500.0 1061.7 C515.2 1061.8 533.9 1061.8 560.0 1061.8 C586.1 1061.8 640.6 1061.8 656.7 1061.8" fill="none" stroke="#c0504d" stroke-width="3" stroke-linecap="round" stroke-linejoin="round"/>
<path d="M93.3 903.1 C93.8 902.7 95.1 903.1 96.2 900.7 C97.3 898.3 98.2 893.7 99.7 888.5 C101.2 883.3 103.3 875.8 105.5 869.5 C107.7 863.2 110.4 856.2 112.8 850.5 C115.2 844.8 117.7 840.2 120.1 835.3 C122.5 830.4 124.7 825.6 127.4 821.3 C130.1 817.0 133.0 813.6 136.2 809.6 C139.4 805.6 143.2 800.8 146.4 797.4 C149.6 794.0 152.3 791.5 155.2 789.2 C158.1 787.0 161.5 785.0 163.9 783.9 C166.3 782.8 168.1 782.4 169.8 782.8 C171.5 783.2 172.9 784.3 174.1 786.3 C175.3 788.3 175.9 791.6 177.1 795.0 C178.3 798.4 180.3 802.8 181.4 806.7 C182.5 810.6 182.9 811.6 183.8 818.4 C184.7 825.2 185.6 836.9 186.7 847.6 C187.8 858.3 189.0 870.4 190.2 882.6 C191.4 894.8 192.2 905.5 193.7 920.6 C195.2 935.7 197.2 959.4 199.0 973.0 C200.8 986.6 202.6 993.5 204.8 1002.2 C207.0 1011.0 209.4 1018.7 212.1 1025.5 C214.8 1032.3 217.5 1038.5 220.9 1043.1 C224.3 1047.7 228.2 1051.0 232.6 1053.3 C237.0 1055.6 241.4 1056.2 247.2 1057.1 C253.0 1058.0 260.3 1058.3 267.6 1058.5 C274.9 1058.7 284.1 1058.7 290.9 1058.5 C297.7 1058.3 302.6 1057.7 308.5 1057.1 C314.4 1056.5 320.2 1055.2 326.0 1054.7 C331.8 1054.2 337.3 1054.0 343.5 1053.9 C349.7 1053.8 356.2 1054.2 363.4 1054.1 C370.6 1054.0 380.1 1053.5 386.7 1053.4 C393.3 1053.4 398.0 1053.4 403.1 1053.8 C408.2 1054.2 412.0 1054.9 417.1 1055.7 C422.2 1056.5 428.4 1057.8 433.5 1058.5 C438.6 1059.2 441.7 1059.5 447.5 1059.9 C453.3 1060.3 459.8 1060.8 468.5 1061.0 C477.2 1061.2 484.8 1061.3 500.0 1061.4 C515.2 1061.5 533.9 1061.6 560.0 1061.6 C586.1 1061.6 640.6 1061.6 656.7 1061.6" fill="none" stroke="#4f81bd" stroke-width="3" stroke-linecap="round" stroke-linejoin="round"/>
</g>
<line x1="535.3" y1="794.9" x2="555" y2="794.9" stroke="#c0504d" stroke-width="2.6" stroke-linecap="round"/>
<text x="556.5" y="801.2" class="t19">SQD</text>
<line x1="535.3" y1="842" x2="555" y2="842" stroke="#4f81bd" stroke-width="2.6" stroke-linecap="round"/>
<text x="556.5" y="847.9" class="t19">Cu-SQD</text>
<text x="613.2" y="1005.5" text-anchor="middle" class="t27">d</text>
</svg>
</body></html>
